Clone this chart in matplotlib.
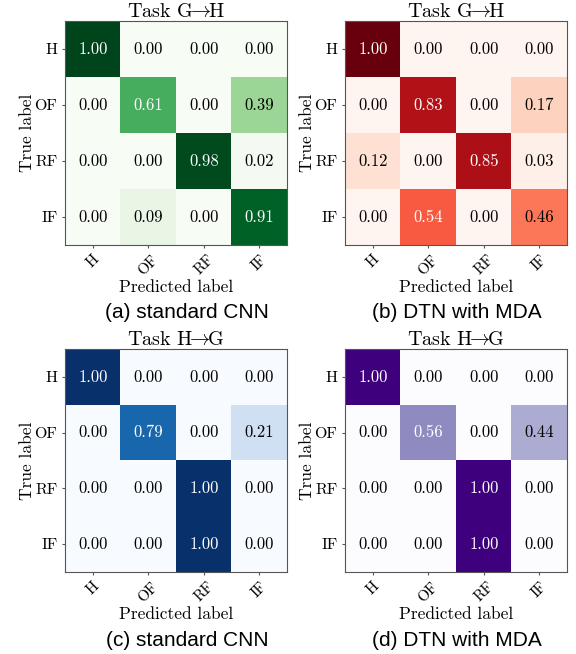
import numpy as np
import matplotlib
matplotlib.use('Agg')
from matplotlib import pyplot as plt

plt.rcParams['font.family'] = 'cmr10'
plt.rcParams['mathtext.fontset'] = 'cm'
plt.rcParams['axes.formatter.use_mathtext'] = True

classes = ['H', 'OF', 'RF', 'IF']

cm_a = [[1.00, 0.00, 0.00, 0.00],
        [0.00, 0.61, 0.00, 0.39],
        [0.00, 0.00, 0.98, 0.02],
        [0.00, 0.09, 0.00, 0.91]]
cm_b = [[1.00, 0.00, 0.00, 0.00],
        [0.00, 0.83, 0.00, 0.17],
        [0.12, 0.00, 0.85, 0.03],
        [0.00, 0.54, 0.00, 0.46]]
cm_c = [[1.00, 0.00, 0.00, 0.00],
        [0.00, 0.79, 0.00, 0.21],
        [0.00, 0.00, 1.00, 0.00],
        [0.00, 0.00, 1.00, 0.00]]
cm_d = [[1.00, 0.00, 0.00, 0.00],
        [0.00, 0.56, 0.00, 0.44],
        [0.00, 0.00, 1.00, 0.00],
        [0.00, 0.00, 1.00, 0.00]]

titles = [r'Task G$\!\!\rightarrow\!\!$H', r'Task G$\!\!\rightarrow\!\!$H',
          r'Task H$\!\!\rightarrow\!\!$G', r'Task H$\!\!\rightarrow\!\!$G']
captions = ['(a) standard CNN', '(b) DTN with MDA',
            '(c) standard CNN', '(d) DTN with MDA']
cmaps = ['Greens', 'Reds', 'Blues', 'Purples']

W, H = 576, 654
fig = plt.figure(figsize=(W / 100, H / 100), dpi=100)

# axes boxes in pixels: left, top, right, bottom
boxes = [(65, 21, 287, 245), (345, 21, 567, 245),
         (65, 349, 287, 572), (345, 349, 567, 572)]
cap_pos = [(187, 313), (457, 313), (187, 640), (457, 640)]


def plot_cm(ax, cm, cmap, title):
    cm = np.array(cm)
    ax.imshow(cm, interpolation='nearest', cmap=cmap, vmin=0, vmax=1,
              aspect='auto')
    ax.set_title(title, fontsize=14.5, pad=2)
    ticks = np.arange(len(classes))
    ax.set_xticks(ticks)
    ax.set_xticklabels(classes, rotation=45, fontsize=11)
    ax.set_yticks(ticks)
    ax.set_yticklabels(classes, fontsize=11.5)
    ax.tick_params(length=2.5, pad=3, color='#555555')
    thresh = cm.max() / 2.
    for i in range(cm.shape[0]):
        for j in range(cm.shape[1]):
            ax.text(j, i, '{:.2f}'.format(cm[i, j]),
                    ha='center', va='center', fontsize=12,
                    color='white' if cm[i, j] > thresh else 'black')
    ax.set_ylabel('True label', fontsize=12.5)
    ax.set_xlabel('Predicted label', fontsize=12.5)
    ax.xaxis.label.set_va('center')
    ax.yaxis.label.set_va('center')
    ax.xaxis.set_label_coords(0.5, -0.19)
    ax.yaxis.set_label_coords(-0.171, 0.5)
    for s in ax.spines.values():
        s.set_color('#555555')
        s.set_linewidth(0.8)


for k, cm in enumerate([cm_a, cm_b, cm_c, cm_d]):
    l, t, r, b = boxes[k]
    ax = fig.add_axes([l / W, 1 - b / H, (r - l) / W, (b - t) / H])
    plot_cm(ax, cm, cmaps[k], titles[k])
    cx, cy = cap_pos[k]
    fig.text(cx / W, 1 - cy / H, captions[k], ha='center', va='center',
             fontsize=15, family='Liberation Sans')

fig.savefig('out.png', dpi=100)
